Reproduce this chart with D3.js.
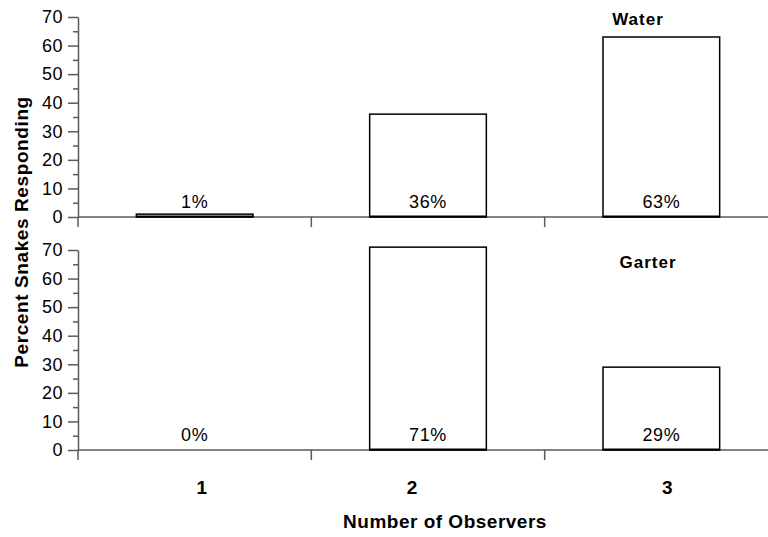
<!DOCTYPE html>
<html>
<head>
<meta charset="utf-8">
<script src="https://cdn.jsdelivr.net/npm/d3@7"></script>
<style>
  body { margin: 0; background: #fff; }
  svg { display: block; font-family: "Liberation Sans", Arial, Helvetica, sans-serif; }
</style>
</head>
<body>
<div id="chart"></div>
<script>
// data
const observers = ["1", "2", "3"];
const waterPct = [1, 36, 63];
const garterPct = [0, 71, 29];
const panelNames = ["Water", "Garter"];
const yTicks = [0, 10, 20, 30, 40, 50, 60, 70];
const yMinorTicks = [5, 15, 25, 35, 45, 55, 65];

const width = 768, height = 537;
const axisColor = "#5a5a5a";

const svg = d3.select("#chart")
    .append("svg")
    .attr("width", width)
    .attr("height", height);

const x = d3.scaleBand()
    .domain(observers)
    .range([78, 778])
    .paddingInner(0.5)
    .paddingOuter(0.25);

// small nudges so the category labels sit where the original put them
const labelNudge = [7, -16, 6];

const panels = [
    { name: panelNames[0], values: waterPct, y0: 217, y1: 17, titleX: 638, titleY: 25 },
    { name: panelNames[1], values: garterPct, y0: 450, y1: 250, titleX: 648, titleY: 268 }
];

panels.forEach(p => {
    const y = d3.scaleLinear().domain([0, 70]).range([p.y0, p.y1]);
    const g = svg.append("g");
    const rows = p.values.map((v, i) => ({ obs: observers[i], v }));

    // minor ticks
    g.append("g")
        .attr("transform", "translate(78,0)")
        .call(d3.axisLeft(y).tickValues(yMinorTicks).tickSize(5).tickSizeOuter(0).tickFormat(""))
        .call(a => a.select(".domain").remove())
        .selectAll("line").attr("stroke", axisColor).attr("stroke-width", 1.5);

    // major ticks + labels
    const ya = g.append("g")
        .attr("transform", "translate(78,0)")
        .call(d3.axisLeft(y).tickValues(yTicks).tickSize(10).tickSizeOuter(0).tickPadding(5));
    ya.select(".domain").attr("stroke", axisColor).attr("stroke-width", 1.5);
    ya.selectAll(".tick line").attr("stroke", axisColor).attr("stroke-width", 1.5);
    ya.selectAll("text")
        .style("font-size", "18px")
        .style("font-family", "'Liberation Sans', Arial, sans-serif")
        .style("letter-spacing", "0.5px")
        .attr("fill", "#000");

    // x axis line and ticks at band boundaries
    const half = x.step() * x.paddingInner() / 2;
    const bounds = [x.range()[0]]
        .concat(observers.slice(1).map(d => x(d) - half))
        .concat([x.range()[1]]);
    g.append("line")
        .attr("x1", 78).attr("x2", width)
        .attr("y1", p.y0).attr("y2", p.y0)
        .attr("stroke", axisColor).attr("stroke-width", 1.5);
    g.selectAll("line.xtick")
        .data(bounds)
        .enter()
        .append("line")
        .attr("class", "xtick")
        .attr("x1", d => d).attr("x2", d => d)
        .attr("y1", p.y0).attr("y2", p.y0 + 10)
        .attr("stroke", axisColor).attr("stroke-width", 1.5);

    // bars
    g.selectAll("rect")
        .data(rows.filter(d => d.v > 0))
        .enter()
        .append("rect")
        .attr("x", d => x(d.obs))
        .attr("y", d => y(d.v))
        .attr("width", x.bandwidth())
        .attr("height", d => y(0) - y(d.v))
        .attr("fill", "#fff")
        .attr("stroke", "#000")
        .attr("stroke-width", 1.5);

    // bar bottom edge drawn heavier
    g.selectAll("line.base")
        .data(rows.filter(d => d.v > 0))
        .enter()
        .append("line")
        .attr("class", "base")
        .attr("x1", d => x(d.obs)).attr("x2", d => x(d.obs) + x.bandwidth())
        .attr("y1", p.y0 - 0.5).attr("y2", p.y0 - 0.5)
        .attr("stroke", "#000").attr("stroke-width", 2);

    // percent labels
    g.selectAll("text.pct")
        .data(rows)
        .enter()
        .append("text")
        .attr("class", "pct")
        .attr("x", d => x(d.obs) + x.bandwidth() / 2)
        .attr("y", p.y0 - 9)
        .attr("text-anchor", "middle")
        .style("font-size", "18px")
        .style("letter-spacing", "0.6px")
        .text(d => d.v + "%");

    // panel title
    g.append("text")
        .attr("x", p.titleX)
        .attr("y", p.titleY)
        .attr("text-anchor", "middle")
        .style("font-size", "17px")
        .style("font-weight", "bold")
        .style("letter-spacing", "1px")
        .text(p.name);
});

// category labels
svg.selectAll("text.cat")
    .data(observers)
    .enter()
    .append("text")
    .attr("class", "cat")
    .attr("x", (d, i) => x(d) + x.bandwidth() / 2 + labelNudge[i])
    .attr("y", 494)
    .attr("text-anchor", "middle")
    .style("font-size", "19px")
    .style("font-weight", "bold")
    .text(d => d);

svg.append("text")
    .attr("x", 445)
    .attr("y", 528)
    .attr("text-anchor", "middle")
    .style("font-size", "19px")
    .style("font-weight", "bold")
    .style("letter-spacing", "0.5px")
    .text("Number of Observers");

svg.append("text")
    .attr("transform", "translate(28,232) rotate(-90)")
    .attr("text-anchor", "middle")
    .style("font-size", "19px")
    .style("font-weight", "bold")
    .style("letter-spacing", "0.6px")
    .text("Percent Snakes Responding");
</script>
</body>
</html>
